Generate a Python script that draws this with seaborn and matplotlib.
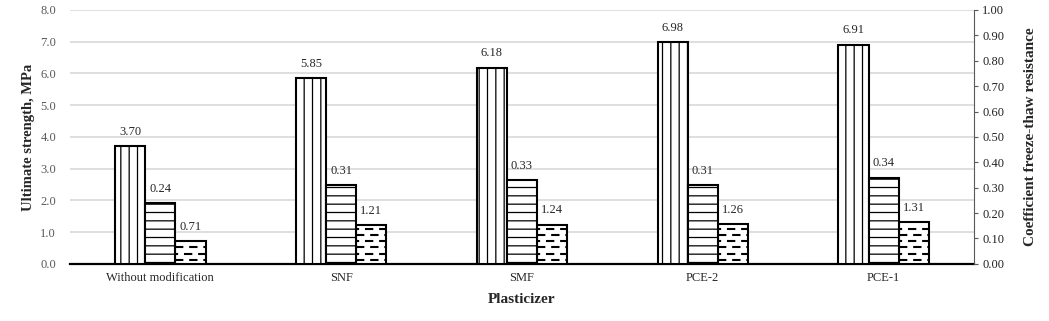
import numpy as np
import pandas as pd
import matplotlib
matplotlib.use("Agg")
import matplotlib.pyplot as plt
import seaborn as sns

# data
plasticizers = ["Without modification", "SNF", "SMF", "PCE-2", "PCE-1"]
strength = [3.70, 5.85, 6.18, 6.98, 6.91]          # left axis, MPa
freeze_coef = [0.24, 0.31, 0.33, 0.31, 0.34]       # right axis
third_series = [0.71, 1.21, 1.24, 1.26, 1.31]      # left axis
series_order = ["Ultimate strength", "Coefficient freeze-thaw", "Strength after cycles"]

sns.set_style("white")
plt.rcParams["font.family"] = ["Liberation Serif", "DejaVu Serif"]
plt.rcParams["hatch.linewidth"] = 0.9
plt.rcParams["hatch.color"] = "black"

left_df = pd.DataFrame({
    "Plasticizer": plasticizers * 2,
    "value": strength + third_series,
    "series": [series_order[0]] * 5 + [series_order[2]] * 5,
})
right_df = pd.DataFrame({
    "Plasticizer": plasticizers,
    "value": freeze_coef,
    "series": [series_order[1]] * 5,
})

fig, ax = plt.subplots(figsize=(10.49, 3.21), dpi=100)
fig.subplots_adjust(left=0.0667, right=0.9285, top=0.969, bottom=0.178)
ax2 = ax.twinx()

bar_kw = dict(x="Plasticizer", y="value", hue="series", hue_order=series_order,
              order=plasticizers, width=0.5, dodge=True, palette=["white"] * 3,
              edgecolor="black", linewidth=1.5, legend=False, zorder=3)
sns.barplot(data=left_df, ax=ax, **bar_kw)
sns.barplot(data=right_df, ax=ax2, **bar_kw)

ax.set_ylim(0, 8)
ax2.set_ylim(0, 1)
ax.set_xlim(-0.5, len(plasticizers) - 0.5)
ax2.set_xlim(-0.5, len(plasticizers) - 0.5)

left_conts = [c for c in ax.containers if len(c)]
strength_bars = left_conts[0]
third_bars = left_conts[-1]
coef_bars = [c for c in ax2.containers if len(c)][0]

for p in strength_bars:
    p.set_hatch("||")
for p in coef_bars:
    p.set_hatch("--")

# dashed fill for third series
step = 8 / 254 * 6.3
for p in third_bars:
    x0 = p.get_x()
    x1 = x0 + p.get_width()
    h = p.get_height()
    y = step * 0.6
    k = 0
    while y < h - step * 0.4:
        ln, = ax.plot([x0, x1], [y, y], color="black", lw=1.5,
                      linestyle=(2.5 if k % 2 else 0.0, (4.0, 2.8)), zorder=4)
        ln.set_clip_path(p)
        y += step
        k += 1

ax.bar_label(strength_bars, fmt="%.2f", padding=6, fontsize=9)
ax.bar_label(third_bars, fmt="%.2f", padding=6, fontsize=9)
ax2.bar_label(coef_bars, fmt="%.2f", padding=6, fontsize=9)

ax.set_yticks(np.arange(0, 8.1, 1.0))
ax.set_yticklabels([f"{v:.1f}" for v in np.arange(0, 8.1, 1.0)], fontsize=9, color="#595959")
ax2.set_yticks(np.arange(0, 1.01, 0.1))
ax2.set_yticklabels([f"{v:.2f}" for v in np.arange(0, 1.01, 0.1)], fontsize=9, color="#222222")

ax.grid(axis="y", color="#d9d9d9", linewidth=1.2, zorder=0)
ax.set_axisbelow(True)
ax2.grid(False)

ax.set_xticks(range(len(plasticizers)))
ax.set_xticklabels(plasticizers, fontsize=9)
ax.set_xticks(np.arange(0.5, len(plasticizers) - 0.5, 1.0), minor=True)
ax.tick_params(axis="x", which="major", length=0, pad=6)
ax.tick_params(axis="x", which="minor", length=3, width=1, direction="out", color="black")
ax.tick_params(axis="y", length=0, pad=10)
ax2.tick_params(axis="y", length=3, width=0.8, direction="out", color="#595959", pad=3)

for s in ["top", "left", "right"]:
    ax.spines[s].set_visible(False)
for s in ["top", "left", "bottom"]:
    ax2.spines[s].set_visible(False)
ax.spines["bottom"].set_color("black")
ax.spines["bottom"].set_linewidth(1.6)
ax2.spines["right"].set_color("#595959")
ax2.spines["right"].set_linewidth(0.8)

ax.set_xlabel("Plasticizer", fontsize=11, fontweight="bold", labelpad=6)
ax.set_ylabel("Ultimate strength, MPa", fontsize=10.5, fontweight="bold", labelpad=4)
ax2.set_ylabel("Coefficient freeze-thaw resistance", fontsize=11, fontweight="bold", labelpad=14)

fig.savefig("out.png", dpi=100)
